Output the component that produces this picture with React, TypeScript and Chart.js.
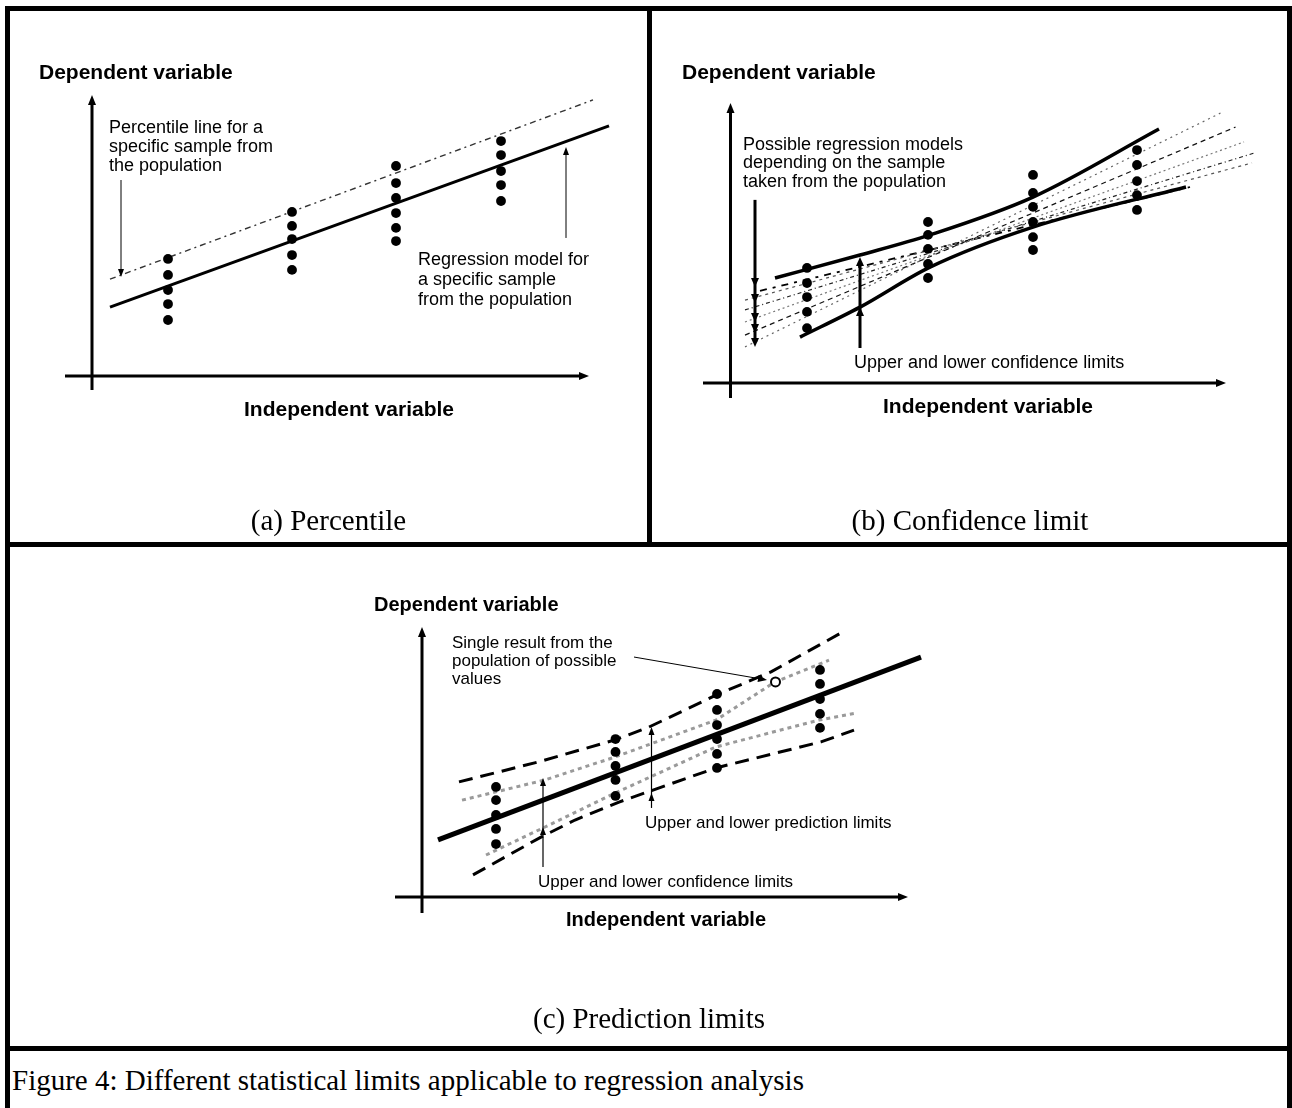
import React, { useEffect, useRef } from 'react';
import { Chart, registerables } from 'chart.js';

Chart.register(...registerables);

// ---------------- DATA ----------------
// Panel (a) Percentile
const aSampleX = [1.52, 4.0, 6.08, 8.18];
const aSampleY = [
  [4.18, 3.61, 3.07, 2.57, 2.0],
  [5.86, 5.36, 4.89, 4.32, 3.79],
  [7.5, 6.89, 6.36, 5.82, 5.29, 4.82],
  [8.39, 7.89, 7.32, 6.82, 6.25],
];
const aRegressionX = [0.36, 10.34];
const aRegressionY = [2.46, 8.93];
const aPercentileX = [0.36, 10.02];
const aPercentileY = [3.46, 9.86];

// Panel (b) Confidence limit
const bSampleX = [1.53, 3.95, 6.05, 8.13];
const bSampleY = [
  [4.11, 3.57, 3.07, 2.54, 1.96],
  [5.75, 5.29, 4.79, 4.25, 3.75],
  [7.43, 6.79, 6.29, 5.75, 5.21, 4.75],
  [8.32, 7.79, 7.21, 6.71, 6.18],
];
const bUpperX = [0.89, 2.59, 3.99, 6.05, 8.57];
const bUpperY = [3.75, 4.57, 5.29, 6.64, 9.07];
const bLowerX = [1.39, 2.59, 3.99, 6.05, 9.11];
const bLowerY = [1.64, 2.71, 4.14, 5.57, 7.0];
// possible regression models: [x start, y start, x end, y end]
const bModels = [
  [0.29, 1.29, 9.8, 9.64],
  [0.29, 1.71, 10.1, 9.14],
  [0.29, 2.18, 10.27, 8.61],
  [0.29, 2.61, 10.47, 8.21],
  [0.29, 2.96, 10.43, 7.86],
  [0.59, 3.29, 9.19, 7.0],
];

// Panel (c) Prediction limits
const cSampleX = [1.48, 3.87, 5.9, 7.96];
const cSampleY = [
  [3.93, 3.46, 2.93, 2.43, 1.89],
  [5.64, 5.18, 4.68, 4.18, 3.61],
  [7.25, 6.68, 6.14, 5.64, 5.11, 4.61],
  [8.11, 7.61, 7.07, 6.54, 6.04],
];
const cSingleX = [7.07];
const cSingleY = [7.68];
const cRegressionX = [0.32, 9.98];
const cRegressionY = [2.04, 8.57];
const cUpperPredX = [0.74, 2.32, 3.86, 4.54, 5.88, 6.98, 8.38];
const cUpperPredY = [4.11, 4.82, 5.61, 6.07, 7.21, 8.04, 9.43];
const cLowerPredX = [1.02, 2.38, 3.06, 3.94, 4.62, 5.88, 7.98, 8.64];
const cLowerPredY = [0.79, 2.14, 2.75, 3.39, 3.82, 4.61, 5.54, 5.96];
const cUpperConfX = [0.8, 2.46, 3.86, 5.88, 7.06, 8.14];
const cUpperConfY = [3.46, 4.18, 5.0, 6.32, 7.68, 8.46];
const cLowerConfX = [1.28, 2.46, 3.86, 5.88, 7.94, 8.68];
const cLowerConfY = [1.5, 2.5, 3.71, 5.36, 6.32, 6.57];

// ---------------- HELPERS ----------------
const SANS = '"Liberation Sans", Arial, Helvetica, sans-serif';
const SERIF = '"Liberation Serif", "Times New Roman", Times, serif';

const zip = (xs: number[], ys: number[]) => xs.map((x, i) => ({ x, y: ys[i] }));

const pointsDataset = (xs: number[], ys: number[][]) => ({
  type: 'line',
  data: ys.flatMap((col, i) => col.map((y) => ({ x: xs[i], y }))),
  showLine: false,
  pointRadius: 4.9,
  pointHoverRadius: 4.9,
  pointBackgroundColor: '#000',
  pointBorderWidth: 0,
  clip: false,
});

const lineDataset = (
  xs: number[],
  ys: number[],
  color: string,
  width: number,
  dash: number[] = [],
  smooth = false
) => ({
  type: 'line',
  data: zip(xs, ys),
  showLine: true,
  borderColor: color,
  borderWidth: width,
  borderDash: dash,
  pointRadius: 0,
  pointHoverRadius: 0,
  fill: false,
  tension: smooth ? 0.4 : 0,
  cubicInterpolationMode: smooth ? 'monotone' : 'default',
  clip: false,
  borderCapStyle: 'butt',
});

type ArrowCfg = {
  x1: number; y1: number; x2: number; y2: number;
  width: number; len: number; hw: number; extra?: number[];
};
type TextCfg = {
  lines: string[]; x: number; y: number; size: number; bold?: boolean;
  align?: CanvasTextAlign; lh?: number;
};
type PanelCfg = {
  cell: [number, number, number, number];
  origin: [number, number];
  unit: [number, number];
  xRange: [number, number];
  yRange: [number, number];
  xAxis: [number, number];
  yAxis: [number, number];
  datasets: any[];
  arrows: ArrowCfg[];
  texts: TextCfg[];
};

function head(ctx: CanvasRenderingContext2D, tx: number, ty: number, ang: number, len: number, hw: number) {
  const c = Math.cos(ang), s = Math.sin(ang);
  ctx.beginPath();
  ctx.moveTo(tx, ty);
  ctx.lineTo(tx - len * c + hw * s, ty - len * s - hw * c);
  ctx.lineTo(tx - len * c - hw * s, ty - len * s + hw * c);
  ctx.closePath();
  ctx.fill();
}

function makeOverlay(cfg: PanelCfg) {
  return {
    id: 'overlay',
    beforeDatasetsDraw(chart: any) {
      const { ctx } = chart;
      const xs = chart.scales.x, ys = chart.scales.y;
      const x0 = xs.getPixelForValue(0), y0 = ys.getPixelForValue(0);
      ctx.save();
      ctx.strokeStyle = '#000';
      ctx.fillStyle = '#000';
      ctx.lineWidth = 3;
      // y axis
      const yb = ys.getPixelForValue(cfg.yAxis[0]), yt = ys.getPixelForValue(cfg.yAxis[1]);
      ctx.beginPath(); ctx.moveTo(x0, yb); ctx.lineTo(x0, yt + 6); ctx.stroke();
      head(ctx, x0, yt, -Math.PI / 2, 10, 4);
      // x axis
      const xl = xs.getPixelForValue(cfg.xAxis[0]), xr = xs.getPixelForValue(cfg.xAxis[1]);
      ctx.beginPath(); ctx.moveTo(xl, y0); ctx.lineTo(xr - 6, y0); ctx.stroke();
      head(ctx, xr, y0, 0, 10, 4);
      ctx.restore();
    },
    afterDatasetsDraw(chart: any) {
      const { ctx } = chart;
      const xs = chart.scales.x, ys = chart.scales.y;
      ctx.save();
      ctx.strokeStyle = '#000';
      ctx.fillStyle = '#000';
      for (const a of cfg.arrows) {
        const px1 = xs.getPixelForValue(a.x1), py1 = ys.getPixelForValue(a.y1);
        const px2 = xs.getPixelForValue(a.x2), py2 = ys.getPixelForValue(a.y2);
        const ang = Math.atan2(py2 - py1, px2 - px1);
        ctx.lineWidth = a.width;
        ctx.beginPath();
        ctx.moveTo(px1, py1);
        ctx.lineTo(px2 - Math.cos(ang) * a.len * 0.6, py2 - Math.sin(ang) * a.len * 0.6);
        ctx.stroke();
        head(ctx, px2, py2, ang, a.len, a.hw);
        for (const e of a.extra || []) {
          head(ctx, px1, ys.getPixelForValue(e), ang, a.len, a.hw);
        }
      }
      const [cl, ct] = cfg.cell;
      for (const t of cfg.texts) {
        ctx.font = `${t.bold ? 'bold ' : ''}${t.size}px ${SANS}`;
        ctx.textAlign = t.align || 'left';
        ctx.textBaseline = 'middle';
        t.lines.forEach((ln, i) => {
          ctx.fillText(ln, t.x - cl, t.y - ct + i * (t.lh || t.size));
        });
      }
      ctx.restore();
    },
  };
}

function Panel({ cfg }: { cfg: PanelCfg }) {
  const ref = useRef<HTMLCanvasElement>(null);
  useEffect(() => {
    const [cl, ct, cw, ch] = cfg.cell;
    const [ox, oy] = cfg.origin;
    const [ux, uy] = cfg.unit;
    const left = ox + ux * cfg.xRange[0];
    const right = ox + ux * cfg.xRange[1];
    const top = oy - uy * cfg.yRange[1];
    const bottom = oy - uy * cfg.yRange[0];
    const chart = new Chart(ref.current as HTMLCanvasElement, {
      type: 'line',
      data: { datasets: cfg.datasets },
      options: {
        animation: false,
        responsive: false,
        maintainAspectRatio: false,
        devicePixelRatio: 1,
        events: [],
        layout: {
          padding: { left: left - cl, right: cl + cw - right, top: top - ct, bottom: ct + ch - bottom },
        },
        scales: {
          x: { type: 'linear', min: cfg.xRange[0], max: cfg.xRange[1], display: false },
          y: { type: 'linear', min: cfg.yRange[0], max: cfg.yRange[1], display: false },
        },
        plugins: { legend: { display: false }, tooltip: { enabled: false }, title: { display: false } },
      } as any,
      plugins: [makeOverlay(cfg) as any],
    } as any);
    return () => chart.destroy();
  }, []);
  const [cl, ct, cw, ch] = cfg.cell;
  return (
    <canvas
      ref={ref}
      width={cw}
      height={ch}
      style={{ position: 'absolute', left: cl, top: ct, width: cw, height: ch }}
    />
  );
}

// ---------------- PANEL CONFIGS ----------------
const modelStyles = [
  { color: '#666', width: 1.2, dash: [2, 4] },
  { color: '#111', width: 1.2, dash: [5, 4] },
  { color: '#777', width: 1.2, dash: [2, 3] },
  { color: '#222', width: 1.2, dash: [4, 3, 1, 3] },
  { color: '#555', width: 1.2, dash: [3, 4] },
  { color: '#000', width: 1.8, dash: [7, 6, 3, 6] },
];

const panelA: PanelCfg = {
  cell: [10, 11, 637, 531],
  origin: [92, 376],
  unit: [50, 28],
  xRange: [-0.8, 10.8],
  yRange: [-0.8, 10.4],
  xAxis: [-0.54, 9.94],
  yAxis: [-0.5, 10.04],
  datasets: [
    pointsDataset(aSampleX, aSampleY),
    lineDataset(aRegressionX, aRegressionY, '#000', 3),
    lineDataset(aPercentileX, aPercentileY, '#333', 1.4, [6, 4, 2, 4]),
  ],
  arrows: [
    { x1: 0.58, y1: 7.0, x2: 0.58, y2: 3.54, width: 1, len: 8, hw: 3 },
    { x1: 9.48, y1: 4.93, x2: 9.48, y2: 8.18, width: 1, len: 8, hw: 3 },
  ],
  texts: [
    { lines: ['Dependent variable'], x: 39, y: 73, size: 21, bold: true },
    { lines: ['Independent variable'], x: 349, y: 410, size: 21, bold: true, align: 'center' },
    { lines: ['Percentile line for a', 'specific sample from', 'the population'], x: 109, y: 128, size: 18, lh: 19 },
    { lines: ['Regression model for', 'a specific sample', 'from the population'], x: 418, y: 260, size: 18, lh: 20 },
  ],
};

const panelB: PanelCfg = {
  cell: [652, 11, 636, 531],
  origin: [730.5, 383],
  unit: [50, 28],
  xRange: [-0.8, 10.8],
  yRange: [-0.8, 10.4],
  xAxis: [-0.55, 9.91],
  yAxis: [-0.54, 10.0],
  datasets: [
    pointsDataset(bSampleX, bSampleY),
    lineDataset(bUpperX, bUpperY, '#000', 3.5, [], true),
    lineDataset(bLowerX, bLowerY, '#000', 3.5, [], true),
    ...bModels.map((m, i) =>
      lineDataset([m[0], m[2]], [m[1], m[3]], modelStyles[i].color, modelStyles[i].width, modelStyles[i].dash)
    ),
  ],
  arrows: [
    { x1: 0.49, y1: 6.54, x2: 0.49, y2: 1.29, width: 3, len: 9, hw: 4, extra: [3.43, 2.86, 2.18, 1.79] },
    { x1: 2.59, y1: 1.25, x2: 2.59, y2: 4.5, width: 3, len: 9, hw: 4, extra: [2.71] },
  ],
  texts: [
    { lines: ['Dependent variable'], x: 682, y: 73, size: 21, bold: true },
    { lines: ['Independent variable'], x: 988, y: 407, size: 21, bold: true, align: 'center' },
    { lines: ['Possible regression models', 'depending on the sample', 'taken from the population'], x: 743, y: 145, size: 18, lh: 18.5 },
    { lines: ['Upper and lower confidence limits'], x: 854, y: 363, size: 18 },
  ],
};

const panelC: PanelCfg = {
  cell: [10, 547, 1278, 499],
  origin: [422, 897],
  unit: [50, 28],
  xRange: [-0.8, 10.4],
  yRange: [-0.8, 10.0],
  xAxis: [-0.54, 9.72],
  yAxis: [-0.57, 9.64],
  datasets: [
    {
      type: 'line',
      data: zip(cSingleX, cSingleY),
      showLine: false,
      pointRadius: 4.5,
      pointBackgroundColor: '#fff',
      pointBorderColor: '#000',
      pointBorderWidth: 2,
      clip: false,
    },
    pointsDataset(cSampleX, cSampleY),
    lineDataset(cRegressionX, cRegressionY, '#000', 5),
    lineDataset(cUpperPredX, cUpperPredY, '#000', 3, [14, 8]),
    lineDataset(cLowerPredX, cLowerPredY, '#000', 3, [14, 8]),
    lineDataset(cUpperConfX, cUpperConfY, '#9a9a9a', 3, [4, 4]),
    lineDataset(cLowerConfX, cLowerConfY, '#9a9a9a', 3, [4, 4]),
  ],
  arrows: [
    { x1: 4.24, y1: 8.57, x2: 6.9, y2: 7.75, width: 1, len: 9, hw: 3.5 },
    { x1: 4.59, y1: 3.18, x2: 4.59, y2: 6.07, width: 1.2, len: 8, hw: 3, extra: [3.71] },
    { x1: 2.42, y1: 1.07, x2: 2.42, y2: 4.25, width: 1.2, len: 8, hw: 3, extra: [2.5] },
  ],
  texts: [
    { lines: ['Dependent variable'], x: 374, y: 605, size: 20, bold: true },
    { lines: ['Independent variable'], x: 666, y: 920, size: 20, bold: true, align: 'center' },
    { lines: ['Single result from the', 'population of possible', 'values'], x: 452, y: 643, size: 17, lh: 18 },
    { lines: ['Upper and lower prediction limits'], x: 645, y: 823, size: 17 },
    { lines: ['Upper and lower confidence limits'], x: 538, y: 882, size: 17 },
  ],
};

// ---------------- LAYOUT ----------------
const bar = (left: number, top: number, width: number, height: number) => (
  <div style={{ position: 'absolute', left, top, width, height, background: '#000' }} />
);

const caption = (text: string, left: number, width: number, cy: number, align: 'center' | 'left' = 'center') => (
  <div
    style={{
      position: 'absolute',
      left,
      width,
      top: cy - 20,
      height: 40,
      lineHeight: '40px',
      textAlign: align,
      fontFamily: SERIF,
      fontSize: 29,
      color: '#000',
      whiteSpace: 'nowrap',
    }}
  >
    {text}
  </div>
);

export default function App() {
  return (
    <div style={{ position: 'absolute', left: 0, top: 0, width: 1292, height: 1108, background: '#fff', overflow: 'hidden' }}>
      <Panel cfg={panelA} />
      <Panel cfg={panelB} />
      <Panel cfg={panelC} />
      {caption('(a) Percentile', 10, 637, 520)}
      {caption('(b) Confidence limit', 652, 636, 520)}
      {caption('(c) Prediction limits', 10, 1278, 1018)}
      {caption('Figure 4: Different statistical limits applicable to regression analysis', 12, 1270, 1080, 'left')}
      {bar(5, 6, 1287, 5)}
      {bar(5, 6, 5, 1102)}
      {bar(1287, 6, 5, 1102)}
      {bar(647, 6, 5, 541)}
      {bar(5, 542, 1287, 5)}
      {bar(5, 1046, 1287, 5)}
    </div>
  );
}
